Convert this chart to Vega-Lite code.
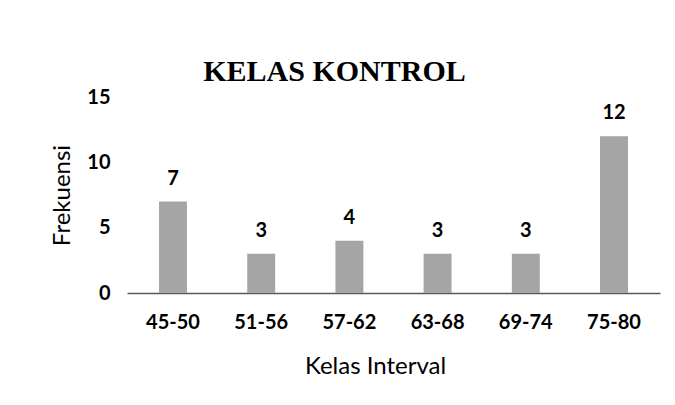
{
  "$schema": "https://vega.github.io/schema/vega-lite/v6.json",
  "autosize": "none",
  "width": 533,
  "height": 196,
  "padding": {"left": 127, "top": 97, "right": 15, "bottom": 112},
  "background": "white",
  "config": {"view": {"stroke": null}},
  "title": {
    "text": "KELAS KONTROL",
    "font": "Liberation Serif",
    "fontSize": 30,
    "fontWeight": "bold",
    "color": "black",
    "anchor": "middle",
    "dx": -59,
    "offset": 0
  },
  "data": {
    "values": [
      {"kelas": "45-50", "frekuensi": 7},
      {"kelas": "51-56", "frekuensi": 3},
      {"kelas": "57-62", "frekuensi": 4},
      {"kelas": "63-68", "frekuensi": 3},
      {"kelas": "69-74", "frekuensi": 3},
      {"kelas": "75-80", "frekuensi": 12}
    ]
  },
  "encoding": {
    "x": {
      "field": "kelas",
      "type": "nominal",
      "sort": null,
      "scale": {"paddingInner": 0.683, "paddingOuter": 0.363},
      "axis": {
        "title": "Kelas Interval",
        "titleFont": "Lato",
        "titleFontSize": 24,
        "titleFontWeight": "normal",
        "titleColor": "black",
        "titlePadding": 22,
        "titleX": 248,
        "labelFont": "Lato",
        "labelFontSize": 20,
        "labelFontWeight": "bold",
        "labelColor": "black",
        "labelAngle": 0,
        "labelPadding": 19,
        "ticks": false,
        "domainColor": "#595959",
        "domainWidth": 1.5
      }
    },
    "y": {
      "field": "frekuensi",
      "type": "quantitative",
      "scale": {"domain": [0, 15]},
      "axis": {
        "title": "Frekuensi",
        "titleFont": "Lato",
        "titleFontSize": 24,
        "titleFontWeight": "normal",
        "titleColor": "black",
        "titlePadding": 12,
        "values": [0, 5, 10, 15],
        "labelFont": "Lato",
        "labelFontSize": 20,
        "labelFontWeight": "bold",
        "labelColor": "black",
        "labelPadding": 17,
        "ticks": false,
        "domain": false,
        "grid": false
      }
    }
  },
  "layer": [
    {"mark": {"type": "bar", "color": "#a5a5a5"}},
    {
      "mark": {"type": "text", "font": "Lato", "fontSize": 20, "fontWeight": "bold", "color": "black", "baseline": "alphabetic", "dy": -17},
      "encoding": {"text": {"field": "frekuensi", "type": "quantitative"}}
    }
  ]
}
